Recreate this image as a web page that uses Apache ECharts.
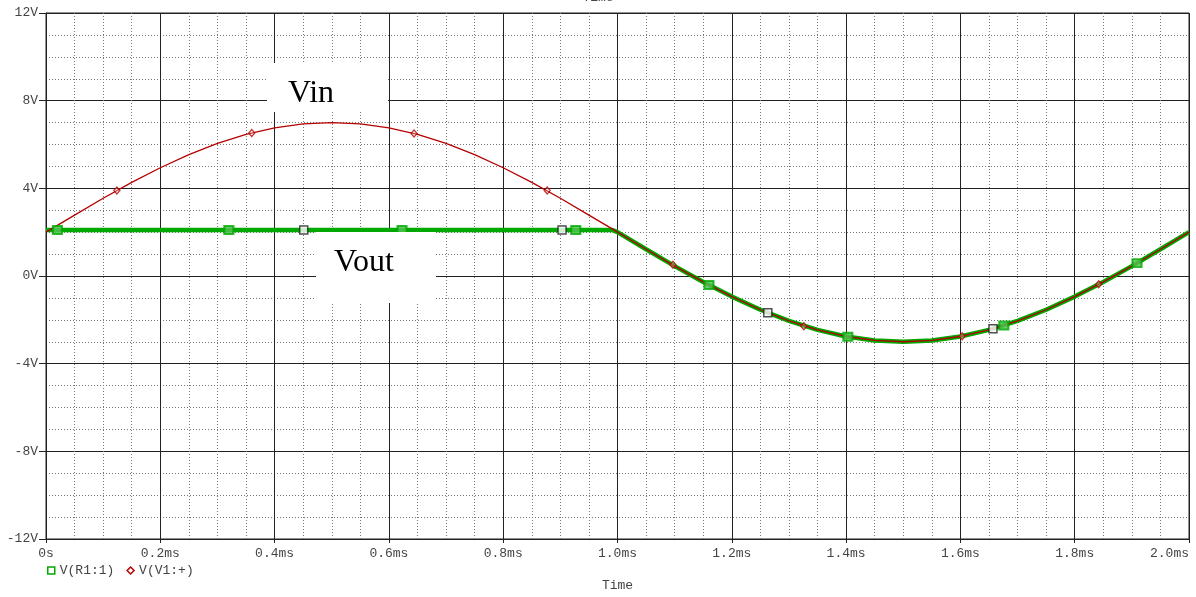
<!DOCTYPE html>
<html>
<head>
<meta charset="utf-8">
<script src="https://cdn.jsdelivr.net/npm/echarts@6/dist/echarts.min.js"></script>
<style>
html,body{margin:0;padding:0;background:#fff;}
#chart{width:1196px;height:597px;}
</style>
</head>
<body>
<div id="chart"></div>
<script>
// Time samples (ms)
const timeMs = [0,0.05,0.10,0.15,0.20,0.25,0.30,0.35,0.40,0.45,0.50,0.55,0.60,0.65,0.70,0.75,0.80,0.85,0.90,0.95,0.99,1.00,1.05,1.10,1.15,1.20,1.25,1.30,1.35,1.40,1.45,1.50,1.55,1.60,1.65,1.70,1.75,1.80,1.85,1.90,1.95,2.00];
// V(V1:+) input voltage (V)
const vin = [2.00,2.78,3.55,4.27,4.94,5.54,6.05,6.46,6.76,6.94,7.00,6.94,6.76,6.46,6.05,5.54,4.94,4.27,3.55,2.78,2.16,2.00,1.22,0.45,-0.27,-0.94,-1.54,-2.05,-2.46,-2.76,-2.94,-3.00,-2.94,-2.76,-2.46,-2.05,-1.54,-0.94,-0.27,0.45,1.22,2.00];
// V(R1:1) output voltage (V)
const vout = [2.10,2.10,2.10,2.10,2.10,2.10,2.10,2.10,2.10,2.10,2.10,2.10,2.10,2.10,2.10,2.10,2.10,2.10,2.10,2.10,2.10,2.00,1.22,0.45,-0.27,-0.94,-1.54,-2.05,-2.46,-2.76,-2.94,-3.00,-2.94,-2.76,-2.46,-2.05,-1.54,-0.94,-0.27,0.45,1.22,2.00];

// Plot markers
const greenMarkT = [0.02,0.32,0.623,0.927,1.16,1.403,1.676,1.909];
const greenMarkV = [2.10,2.10,2.10,2.10,-0.41,-2.77,-2.26,0.59];
const blackMarkT = [0.451,0.903,1.263,1.657];
const blackMarkV = [2.10,2.10,-1.68,-2.41];
const redMarkT = [0.124,0.36,0.644,0.877,1.097,1.326,1.603,1.842];
const redMarkV = [3.90,6.53,6.50,3.90,0.51,-2.29,-2.75,-0.38];

const yTicks = [-12,-8,-4,0,4,8,12];
const seriesNames = ['V(R1:1)','V(V1:+)'];

const zip = (a,b) => a.map((v,i)=>[v,b[i]]);
const mono = '"Liberation Mono", "DejaVu Sans Mono", monospace';
const serif = '"Liberation Serif", "DejaVu Serif", serif';
const GREEN = '#00a800';
const RED = '#b40000';

const chart = echarts.init(document.getElementById('chart'), null, {renderer:'canvas'});
chart.setOption({
  animation:false,
  backgroundColor:'#fff',
  grid:{left:46,right:7,top:13,bottom:58,show:true,borderColor:'#222',borderWidth:1},
  legend:{
    left:42, top:559, itemWidth:7, itemHeight:7, itemGap:12,
    textStyle:{fontFamily:mono,fontSize:13,color:'#444'},
    data:[
      {name:seriesNames[0],icon:'rect',itemStyle:{color:'#fff',borderColor:GREEN,borderWidth:1.5}},
      {name:seriesNames[1],icon:'diamond',itemStyle:{color:'#fff',borderColor:RED,borderWidth:1.5}}
    ]
  },
  xAxis:{
    type:'value', min:0, max:2, interval:0.2,
    axisLine:{show:true,onZero:false,lineStyle:{color:'#222',width:1}},
    axisTick:{show:true,length:4,lineStyle:{color:'#222'}},
    axisLabel:{fontFamily:mono,fontSize:13,color:'#444',margin:8,alignMaxLabel:'right',
      formatter:v=> v===0 ? '0s' : v.toFixed(1)+'ms'},
    splitLine:{show:true,lineStyle:{color:'#222',width:1}},
    minorTick:{show:true,splitNumber:4,length:0},
    minorSplitLine:{show:true,lineStyle:{color:'#777',width:1,type:[1,2]}},
    name:'Time', nameLocation:'middle', nameGap:40,
    nameTextStyle:{fontFamily:mono,fontSize:13,color:'#444'}
  },
  yAxis:{
    type:'value', min:yTicks[0], max:yTicks[yTicks.length-1], interval:4,
    axisLine:{show:true,onZero:false,lineStyle:{color:'#222',width:1}},
    axisTick:{show:true,length:7,lineStyle:{color:'#222'}},
    axisLabel:{fontFamily:mono,fontSize:13,color:'#444',margin:8,formatter:v=>v+'V'},
    splitLine:{show:true,lineStyle:{color:'#222',width:1}},
    minorTick:{show:true,splitNumber:4,length:0},
    minorSplitLine:{show:true,lineStyle:{color:'#777',width:1,type:[1,2]}}
  },
  graphic:[
    {type:'text',left:'center',top:-9,style:{text:'Time',font:'13px '+mono,fill:'#444'},z:10},
    {type:'rect',shape:{x:267,y:63,width:121,height:49},style:{fill:'#fff'},z:50},
    {type:'text',x:288,y:78,style:{text:'Vin',font:'32px '+serif,fill:'#000'},z:51},
    {type:'rect',shape:{x:316,y:232,width:120,height:71},style:{fill:'#fff'},z:50},
    {type:'text',x:334,y:247,style:{text:'Vout',font:'32px '+serif,fill:'#000'},z:51}
  ],
  series:[
    {name:seriesNames[0],type:'line',data:zip(timeMs,vout),showSymbol:false,symbol:'none',
      lineStyle:{color:GREEN,width:4.5},itemStyle:{color:GREEN},z:3},
    {name:seriesNames[1],type:'line',data:zip(timeMs,vin),showSymbol:false,symbol:'none',
      lineStyle:{color:RED,width:1.3},itemStyle:{color:RED},z:4},
    {name:seriesNames[0],type:'scatter',data:zip(greenMarkT,greenMarkV),symbol:'rect',symbolSize:[9,8],
      itemStyle:{color:'#55c455',borderColor:GREEN,borderWidth:2},z:5},
    {name:seriesNames[0],type:'scatter',data:zip(blackMarkT,blackMarkV),symbol:'rect',symbolSize:[8,8],
      itemStyle:{color:'#fff',borderColor:'#222',borderWidth:1.5},z:6},
    {name:seriesNames[1],type:'scatter',data:zip(redMarkT,redMarkV),symbol:'diamond',symbolSize:[6,7],
      itemStyle:{color:'rgba(255,255,255,0.3)',borderColor:RED,borderWidth:1.3},z:7}
  ]
});
</script>
</body>
</html>
